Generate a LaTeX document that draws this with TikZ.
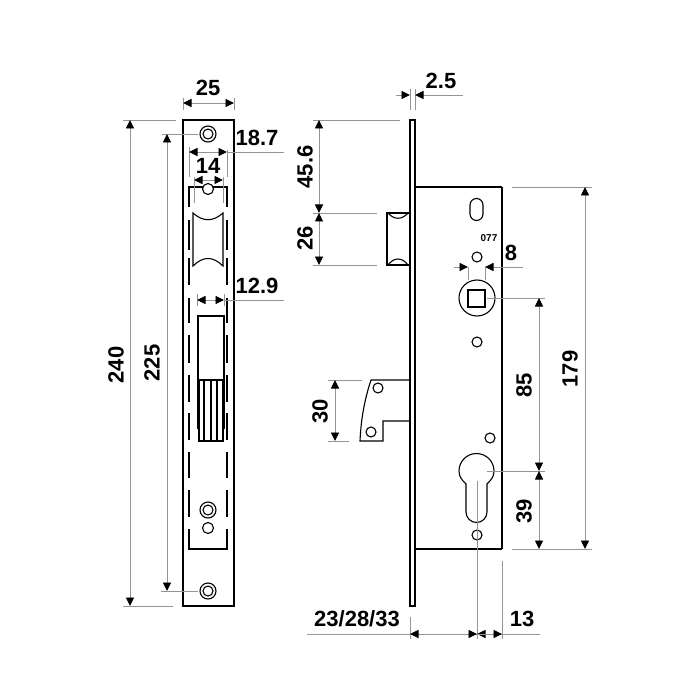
\documentclass[tikz,border=0pt]{standalone}
\usepackage{fontspec}
\setmainfont{Liberation Sans}
\usetikzlibrary{arrows.meta}

\tikzset{
  part/.style={black, line width=1.1pt},
  plate/.style={black, line width=1.4pt},
  extline/.style={black!42, line width=0.9pt},
  dimline/.style={black!42, line width=0.9pt, {Triangle[color=black,length=8.5pt,width=8pt]}-{Triangle[color=black,length=8.5pt,width=8pt]}},
  tipright/.style={black!42, line width=0.9pt, -{Triangle[color=black,length=8.5pt,width=8pt]}},
  dimlabel/.style={font=\fontsize{22}{22}\selectfont\bfseries, inner sep=0pt},
  hole/.style={circle, draw=black, line width=1.1pt, minimum size=#1, inner sep=0pt}
}

\begin{document}
\begin{tikzpicture}[x=1pt,y=-1pt]
  \useasboundingbox (0,0) rectangle (700,700);

  % front view, face plate
  \draw[plate] (183,120) rectangle (234,606);
  \node[hole=16pt] (topouter) at (208,134) {};
  \node[hole=10pt] (topinner) at (208,134) {};
  \node[hole=16pt] (botouter) at (208,591) {};
  \node[hole=10pt] (botinner) at (208,591) {};
  \node[hole=16pt] (lowouter) at (208,510) {};
  \node[hole=10pt] (lowinner) at (208,510) {};
  \node[hole=11pt] (lowhole) at (208,528) {};

  % outline of the case behind the plate
  \draw[part] (189,207)--(189,187)--(227,187)--(227,207);
  \draw[part] (189,529)--(189,549)--(227,549)--(227,529);
  \foreach \ya/\yb in {220/250,258/285,298/323,335/363,375/402,413/440,452/478,490/517}
  {
    \draw[part] (189,\ya)--(189,\yb);
    \draw[part] (227,\ya)--(227,\yb);
  }
  \node[hole=11pt, fill=white] (tophole) at (208,189) {};

  % latch and bolt, front
  \draw[part] (193,213) .. controls (203,222) and (213,222) .. (223,213)
    -- (223,266) .. controls (213,256) and (203,256) .. (193,266) -- cycle;
  \draw[part] (198,429)--(198,316)--(224,316)--(224,429);
  \draw[part] (198,380)--(224,380);
  \draw[part] (199,380)--(199,441)--(223,441)--(223,380);
  \foreach \xa in {204,211,217}
  {
    \draw[part] (\xa,380)--(\xa,441);
  }

  % front view, dimensions
  \draw[extline] (183,98)--(183,110);
  \draw[extline] (234,98)--(234,110);
  \draw[dimline] (183,103)--(234,103);
  \node[dimlabel] (widthlabel) at (208,88) {25};

  \draw[extline] (123,120)--(176,120);
  \draw[extline] (123,606)--(173,606);
  \draw[dimline] (130,120)--(130,606);
  \node[dimlabel, rotate=90] (heightlabel) at (116,365) {240};

  \draw[extline] (162,134)--(198,134);
  \draw[extline] (161,591)--(198,591);
  \draw[dimline] (167,134)--(167,591);
  \node[dimlabel, rotate=90] (pitchlabel) at (152,363) {225};

  \draw[extline] (189,147)--(189,177);
  \draw[extline] (227,150)--(227,177);
  \draw[extline] (227,152)--(284,152);
  \draw[dimline] (189,152)--(227,152);
  \node[dimlabel] (caselabel) at (257,138) {18.7};

  \draw[extline] (194,177)--(194,203);
  \draw[extline] (223,177)--(223,203);
  \draw[dimline] (194,180)--(223,180);
  \node[dimlabel] (latchlabel) at (208,166) {14};

  \draw[extline] (197,294)--(197,306);
  \draw[extline] (224,294)--(224,306);
  \draw[extline] (224,300)--(284,300);
  \draw[dimline] (197,300)--(224,300);
  \node[dimlabel] (boltlabel) at (257,286) {12.9};

  % side view
  \draw[plate] (410,120) rectangle (415,606);
  \draw[part, line width=1.4pt] (415,187)--(502,187);
  \draw[part] (502,187)--(502,549);
  \draw[part, line width=1.4pt] (415,549)--(502,549);

  \draw[part] (470,205) arc[start angle=180,end angle=360,radius=6.5]
    -- (483,214) arc[start angle=0,end angle=180,radius=6.5] -- cycle;
  \node[font=\fontsize{10}{10}\selectfont\bfseries, inner sep=0pt] (codelabel) at (489,238) {077};

  \node[hole=10pt] (spindletop) at (477,257) {};
  \node[hole=36pt] (follower) at (477,298) {};
  \draw[part] (468,290) rectangle (485,307);
  \node[hole=10pt] (spindlebot) at (477,342) {};
  \node[hole=10pt] (cylside) at (490,438) {};
  \node[hole=10pt] (cylbot) at (477,535) {};
  \draw[part] (466,484) .. controls (462,480) and (459,477) .. (459,471)
    arc[start angle=180,end angle=360,radius=17.5]
    .. controls (494,477) and (491,480) .. (487,484)
    -- (487,512) arc[start angle=0,end angle=180,radius=10.5] -- cycle;

  % latch, side
  \draw[part] (410,213)--(387,213)--(387,265)--(410,265);
  \draw[part] (388,213) .. controls (394,220) and (402,220) .. (408,213);
  \draw[part] (388,265) .. controls (394,257) and (402,257) .. (408,265);

  % hook bolt, side
  \draw[part] (410,380)--(371,380) .. controls (365,398) and (361,418) .. (360,441)
    --(383,441)--(383,421)--(410,421);
  \node[hole=10pt] (hooktop) at (378,388) {};
  \node[hole=10pt] (hookbot) at (371,432) {};

  % side view, dimensions
  \draw[extline] (410,89)--(410,110);
  \draw[extline] (415,89)--(415,110);
  \draw[tipright] (396,95)--(410,95);
  \draw[tipright] (463,95)--(415,95);
  \node[dimlabel] (thicklabel) at (441,81) {2.5};

  \draw[extline] (313,120)--(400,120);
  \draw[extline] (313,213)--(377,213);
  \draw[extline] (313,265)--(377,265);
  \draw[dimline] (319,120)--(319,213);
  \draw[dimline] (319,213)--(319,265);
  \node[dimlabel, rotate=90] (upperlabel) at (305,167) {45.6};
  \node[dimlabel, rotate=90] (lengthlabel) at (305,238) {26};

  \draw[extline] (328,380)--(362,380);
  \draw[extline] (328,441)--(349,441);
  \draw[dimline] (335,380)--(335,441);
  \node[dimlabel, rotate=90] (hooklabel) at (320,411) {30};

  \draw[extline] (468,267)--(468,280);
  \draw[extline] (485,267)--(485,280);
  \draw[tipright] (454,267)--(468,267);
  \draw[tipright] (523,267)--(485,267);
  \node[dimlabel] (holelabel) at (511,253) {8};

  \draw[extline] (487,298)--(545,298);
  \draw[extline] (487,471)--(545,471);
  \draw[extline] (512,187)--(592,187);
  \draw[extline] (512,549)--(592,549);
  \draw[dimline] (539,298)--(539,471);
  \draw[dimline] (539,471)--(539,549);
  \draw[dimline] (585,187)--(585,549);
  \node[dimlabel, rotate=90] (centerlabel) at (524,385) {85};
  \node[dimlabel, rotate=90] (cyllabel) at (524,511) {39};
  \node[dimlabel, rotate=90] (caselen) at (570,369) {179};

  \draw[extline] (477,481)--(477,639);
  \draw[extline] (502,561)--(502,639);
  \draw[extline] (410,617)--(410,639);
  \draw[extline] (307,634)--(540,634);
  \draw[dimline] (410,634)--(477,634);
  \draw[tipright] (502,634)--(477,634);
  \draw[tipright] (477,634)--(502,634);
  \node[dimlabel] (backsetlabel) at (357,619) {23/28/33};
  \node[dimlabel] (edgelabel) at (522,619) {13};
\end{tikzpicture}
\end{document}
